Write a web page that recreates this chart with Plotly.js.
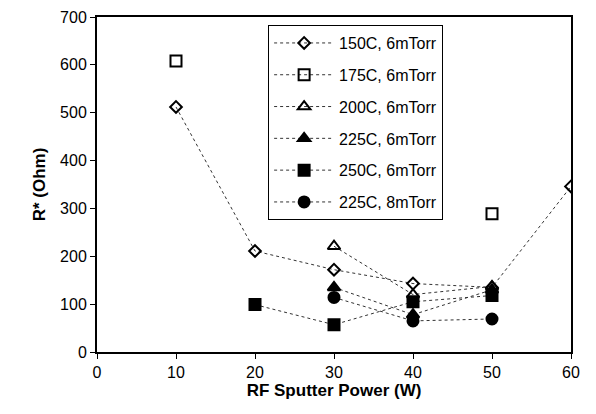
<!DOCTYPE html>
<html><head><meta charset="utf-8">
<script src="https://cdn.plot.ly/plotly-3.0.1.min.js"></script>
<style>html,body{margin:0;padding:0;background:#fff}</style>
</head><body><div id="chart" style="width:596px;height:414px"></div>
<script>
const seriesNames = ["150C, 6mTorr","175C, 6mTorr","200C, 6mTorr","225C, 6mTorr","250C, 6mTorr","225C, 8mTorr"];
const x150 = [10,20,30,40,50,60];
const y150 = [512,211,172,143,135,346];
const x175 = [10,30,50];
const y175 = [608,null,289];
const x200 = [30,40,50];
const y200 = [221,120,137];
const x225 = [30,40,50];
const y225 = [135,78,130];
const x250 = [20,30,40,50];
const y250 = [99,57,105,118];
const x225b = [30,40,50];
const y225b = [114,65,69];
const xTicks = [0,10,20,30,40,50,60];
const yTicks = [0,100,200,300,400,500,600,700];

const xs=[x150,x175,x200,x225,x250,x225b];
const ys=[y150,y175,y200,y225,y250,y225b];
const symbols=["diamond-open","square-open","triangle-up-open","triangle-up","square","circle"];
const sizes=[9,11,11,11,11,11];
const traces = seriesNames.map((n,i)=>({
  x:xs[i], y:ys[i], name:n, type:'scatter', mode:'lines+markers',
  legendgroup:'g'+i, connectgaps:false,
  line:{color:'#333', width:1, dash:'3px,3px'},
  marker:{symbol:symbols[i], size:sizes[i], color:'#000', line:{color:'#000', width:2}}
}));
const layout = {
  width:596, height:414,
  margin:{l:97, r:25, t:17, b:62},
  paper_bgcolor:'#fff', plot_bgcolor:'#fff',
  font:{family:'Liberation Sans, Arial, sans-serif', color:'#000'},
  xaxis:{range:[0,60], tickvals:xTicks, ticktext:xTicks.map(String), showgrid:false, zeroline:false,
    showline:true, mirror:true, linecolor:'#000', linewidth:2, ticks:'outside', ticklen:5, tickcolor:'#000',
    tickfont:{size:16}, title:{text:'RF Sputter Power (W)', font:{size:17, weight:'bold'}, standoff:4}},
  yaxis:{range:[0,700], tickvals:yTicks, ticktext:yTicks.map(String), showgrid:false, zeroline:false,
    showline:true, mirror:true, linecolor:'#000', linewidth:2, ticks:'outside', ticklen:5, tickcolor:'#000',
    tickfont:{size:16}, title:{text:'R* (Ohm)', font:{size:17, weight:'bold'}, standoff:10}},
  showlegend:true,
  legend:{x:0.361, y:0.976, xanchor:'left', yanchor:'top', bgcolor:'#fff', bordercolor:'#000', borderwidth:1,
    font:{size:16}, traceorder:'grouped', tracegroupgap:8, itemwidth:60}
};
Plotly.newPlot('chart', traces, layout, {displayModeBar:false, staticPlot:true});
</script></body></html>
